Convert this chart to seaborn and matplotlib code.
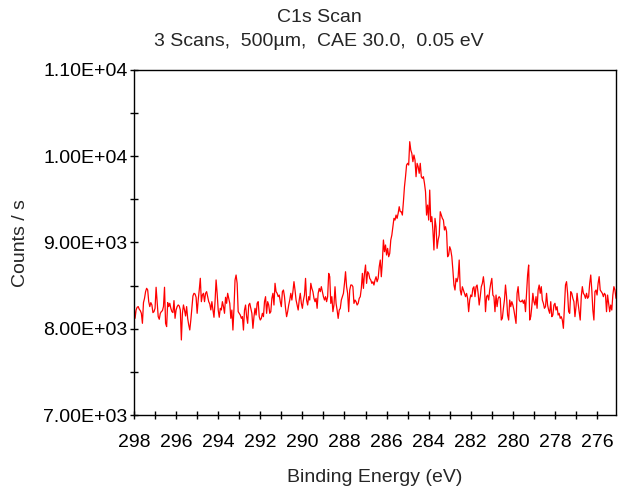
import numpy as np
import pandas as pd
import matplotlib
matplotlib.use("Agg")
import matplotlib.pyplot as plt
from matplotlib.ticker import MultipleLocator, FuncFormatter
import seaborn as sns

# C1s region, 0.05 eV step starting at 298.0 eV binding energy
start_energy = 298.0
step_ev = 0.05

counts_298_293 = [
    8276, 8121, 8218, 8249, 8257, 8226, 8210, 8179, 8063, 8303,
    8353, 8430, 8469, 8450, 8314, 8257, 8303, 8276, 8187, 8199,
    8237, 8481, 8314, 8141, 8110, 8179, 8199, 8210, 8257, 8481,
    8063, 8025, 8303, 8257, 8295, 8237, 8199, 8187, 8326, 8121,
    8218, 8257, 8276, 8264, 8218, 7870, 8179, 8276, 8218, 8148,
    8257, 8121, 8044, 7986, 8102, 8237, 8380, 8411, 8403, 8365,
    8179, 8334, 8450, 8585, 8314, 8392, 8411, 8314, 8411, 8430,
    8372, 8314, 8287, 8218, 8314, 8218, 8133, 8314, 8566, 8411,
    8218, 8133, 8237, 8218, 8314, 8257, 8179, 8365, 8295, 8411,
    8353, 8295, 8121,
]

counts_293_289 = [
    8217, 7985, 8237, 8565, 8623, 8527, 8198, 8179, 8159,
    8121, 8140, 7985, 8217, 8275, 8140, 8063, 8275, 8295, 8237,
    8179, 8005, 8140, 8237, 8159, 8295, 8314, 8140, 8101, 8121,
    8179, 8140, 8314, 8372, 8179, 8314, 8275, 8179, 8198,
    8353, 8411, 8275, 8527, 8430, 8411, 8372, 8391, 8314, 8256,
    8430, 8449, 8372, 8237, 8140, 8198, 8275, 8333, 8411, 8333,
    8430, 8546, 8449, 8333, 8275, 8217, 8333, 8411, 8295,
    8237, 8333, 8391, 8584, 8333, 8275, 8372, 8333, 8527, 8468,
    8430, 8353, 8314, 8353, 8237, 8411, 8468, 8430, 8488, 8430,
    8372, 8333, 8372, 8314, 8372, 8642,
]

counts_289_284 = [
    8603, 8294, 8372, 8198, 8275, 8487, 8294, 8217, 8120, 8217,
    8236, 8333, 8372, 8410, 8526, 8661, 8487, 8410, 8198,
    8449, 8507, 8507, 8487, 8294, 8333, 8314, 8275, 8294,
    8352, 8372, 8468, 8642, 8468, 8642, 8739, 8526, 8661, 8642,
    8584, 8565, 8526, 8545, 8507, 8565, 8603, 8545, 8584,
    8719, 8797, 8603, 8777, 9029, 8893, 8971, 8855, 8932, 8835,
    8874, 9029, 9086, 9183, 9280, 9260, 9318, 9280, 9338, 9415,
    9357, 9357, 9318, 9473, 9647, 9763, 9898, 9918, 9898,
    10169, 10072, 10033, 9937, 10014, 9956, 9763, 9918, 9879, 9802,
]

counts_284_280 = [
    9918, 9763, 9744, 9763, 9686, 9589, 9318, 9434, 9260, 9608,
    9241, 9299, 9145, 8913, 9280, 9183, 8932, 9029, 9086, 9357,
    9318, 9280, 9260, 9145, 9183, 9125, 8835, 8855, 8951,
    8913, 8835, 8681, 8507, 8449, 8584, 8545, 8603, 8797, 8449,
    8391, 8487, 8449, 8410, 8372, 8410, 8352, 8198, 8333,
    8391, 8372, 8468, 8487, 8372, 8487, 8507, 8410, 8275,
    8372, 8487, 8526, 8603, 8487, 8198, 8372, 8391, 8333, 8449,
    8526, 8584, 8391, 8372, 8198, 8391, 8256, 8352, 8372,
    8352, 8101, 8120, 8236, 8333, 8507, 8372, 8159, 8101,
    8333, 8256, 8314, 8275, 8217, 8140, 8062, 8410,
]

counts_280_275 = [
    8488, 8333, 8314, 8314, 8333, 8295, 8333, 8198, 8411,
    8623, 8739, 8101, 8140, 8256, 8411, 8314, 8275, 8372, 8237,
    8449, 8507, 8411, 8488, 8333, 8295, 8237, 8256, 8411,
    8275, 8217, 8179, 8314, 8140, 8159, 8275, 8295, 8217, 8256,
    8159, 8179, 8121, 8140, 8101, 8005, 8256, 8507, 8546,
    8411, 8198, 8179, 8430, 8411, 8353, 8314, 8140, 8256, 8411,
    8295, 8198, 8101, 8372, 8488, 8411, 8391, 8353, 8411,
    8353, 8372, 8526, 8623, 8449, 8217, 8101, 8430, 8449, 8391,
    8526, 8604, 8449, 8430, 8411, 8372, 8411, 8391, 8198, 8391,
    8295, 8198, 8275, 8217, 8391, 8488, 8449, 8353,
]

x_major_labels = [298, 296, 294, 292, 290, 288, 286, 284, 282, 280, 278, 276]
y_major_values = [7000, 8000, 9000, 10000, 11000]

title_line1 = "C1s Scan"
title_line2 = "3 Scans,  500µm,  CAE 30.0,  0.05 eV"
x_label = "Binding Energy (eV)"
y_label = "Counts / s"

counts = (counts_298_293 + counts_293_289 + counts_289_284
          + counts_284_280 + counts_280_275)
energy = np.round(start_energy - step_ev * np.arange(len(counts)), 2)
spectrum = pd.DataFrame({"Binding Energy": energy, "Counts": counts})

sns.set_theme(style="ticks")
plt.rcParams["font.family"] = ["Liberation Sans", "DejaVu Sans"]

fig = plt.figure(figsize=(6.19, 4.91), dpi=100)
fig.patch.set_facecolor("white")
W, H = 619, 491
ax = fig.add_axes([134 / W, 1 - 415 / H, (616 - 134) / W, (415 - 70) / H])
ax.set_facecolor("white")

sns.lineplot(data=spectrum, x="Binding Energy", y="Counts", color="#ff0000",
             linewidth=0.9, ax=ax, legend=False)

ax.set_xlim(start_energy, energy[-1])
ax.set_ylim(min(y_major_values), max(y_major_values))

ax.set_xticks(x_major_labels)
ax.xaxis.set_minor_locator(MultipleLocator(1))
ax.set_yticks(y_major_values)
ax.yaxis.set_minor_locator(MultipleLocator(500))
ax.yaxis.set_major_formatter(FuncFormatter(lambda v, p: f"{v:.2E}"))
ax.xaxis.set_major_formatter(FuncFormatter(lambda v, p: f"{v:.0f}"))

for spine in ax.spines.values():
    spine.set_visible(True)
    spine.set_color("black")
    spine.set_linewidth(1.0)

ax.tick_params(axis="both", which="both", direction="inout", color="black",
               width=1.0, top=False, right=False)
ax.tick_params(axis="both", which="major", length=6, labelsize=14,
               labelcolor="black")
ax.tick_params(axis="both", which="minor", length=6)
ax.tick_params(axis="x", which="major", pad=11)
ax.tick_params(axis="y", which="major", pad=1.5)

ax.set_xlabel("")
ax.set_ylabel("")
fig.text(375 / W, 1 - 478 / H, x_label, ha="center", va="center", fontsize=14)
fig.text(21 / W, 1 - 243 / H, y_label, ha="center", va="center",
         rotation=90, fontsize=14)
fig.text(319 / W, 1 - 18 / H, title_line1, ha="center", va="center",
         fontsize=14)
fig.text(319 / W, 1 - 42 / H, title_line2, ha="center", va="center",
         fontsize=14)

fig.savefig("out.png", dpi=100, facecolor="white")
